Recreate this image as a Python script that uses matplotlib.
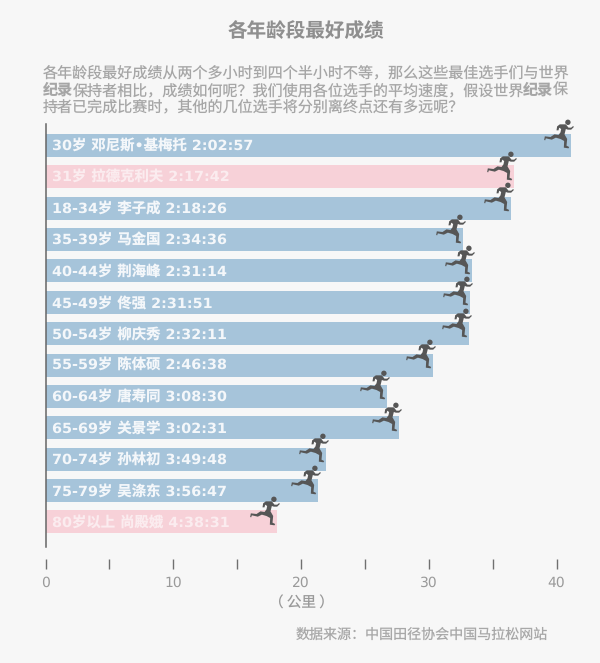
import numpy as np
import matplotlib
matplotlib.use("Agg")
import matplotlib.pyplot as plt
from matplotlib.path import Path

plt.rcParams['font.family'] = ['DejaVu Sans', 'Noto Sans CJK SC']
plt.rcParams['text.hinting'] = 'none'

labels = ["30岁 邓尼斯•基梅托 2:02:57", "31岁 拉德克利夫 2:17:42", "18-34岁 李子成 2:18:26",
          "35-39岁 马金国 2:34:36", "40-44岁 荆海峰 2:31:14", "45-49岁 佟强 2:31:51",
          "50-54岁 柳庆秀 2:32:11", "55-59岁 陈体硕 2:46:38", "60-64岁 唐寿同 3:08:30",
          "65-69岁 关景学 3:02:31", "70-74岁 孙林初 3:49:48", "75-79岁 吴涤东 3:56:47",
          "80岁以上 尚殿娥 4:38:31"]
distance = [41.1, 36.65, 36.45, 32.65, 33.4, 33.25, 33.15, 30.3, 26.75, 27.7, 21.95, 21.35, 18.15]
is_female = [False, True, False, False, False, False, False, False, False, False, False, False, True]

x_ticks = [0, 10, 20, 30, 40]
x_minor = [5, 15, 25, 35]

BLUE = "#a6c4da"
PINK = "#f7d1d8"
W, H = 600, 663

# full width punctuation
COMMA, QMARK, COLON = "\uff0c", "\uff1f", "\uff1a"
LPAR, RPAR = "\uff08", "\uff09"

# silhouette traced from the icon, pixels around the end of the bar
body = [(78, 28), (88, 28), (96, 38), (104, 38), (110, 33), (112, 36), (104, 44), (94, 44),
        (88, 42), (84, 58), (92, 72), (90, 92), (98, 96), (96, 100), (82, 98), (83, 78),
        (72, 72), (58, 68), (46, 74), (28, 70), (26, 76), (23, 75), (25, 64), (42, 66),
        (54, 58), (66, 60), (72, 52), (74, 42), (68, 38), (66, 46), (60, 46), (62, 34), (70, 28)]
body = (np.array(body, float) - [105, 91.5]) / 3 * [1, -1]
head = Path.circle((-3.6, 23.2), 2.7)
runner = Path.make_compound_path(Path(np.vstack([body, body[:1]]), closed=True), head)
runner_size = 2 * np.abs(runner.vertices).max() * 72 / 100


def fig_text(x, y, s, **kw):
    # x, y in pixels from the top left
    fig.text(x / W, 1 - (y + 1) / H, s, va="center", family=['Noto Sans CJK SC', 'DejaVu Sans'], **kw)


fig = plt.figure(figsize=(W / 100, H / 100), dpi=100, facecolor="#f7f7f7")
ax = fig.add_axes([45.5 / W, 1 - 547 / H, 511 / W, 423 / H])
ax.set_facecolor("none")

y = np.arange(len(labels))
ax.barh(y, distance, height=0.735, color=[PINK if f else BLUE for f in is_female], clip_on=False)
ax.plot(distance, y, ls="none", marker=runner, ms=runner_size, mfc="#565656", mec="none", clip_on=False)

for i, s in enumerate(labels):
    ax.annotate(s, (0, i), xytext=(4.8, -3.6), textcoords="offset points", va="baseline",
                color="#fbecef" if is_female[i] else "#f4f7fa", fontsize=10.35, fontweight="bold")

ax.set_xlim(0, 40)
ax.set_ylim(12.8, -0.685)
for side in ["top", "right", "bottom"]:
    ax.spines[side].set_visible(False)
ax.spines["left"].set_color("#666666")
ax.spines["left"].set_linewidth(1.1)
ax.spines["bottom"].set_position(("outward", 8.4))
ax.set_yticks([])
ax.set_xticks(x_ticks)
ax.set_xticks(x_minor, minor=True)
ax.tick_params(axis="x", which="both", length=7.2, width=1, color="#707070")
ax.tick_params(axis="x", which="major", labelsize=10, labelcolor="#9a9a9a", pad=5.5)
ax.set_xlabel(LPAR + " 公里 " + RPAR, fontsize=10.5, color="#9a9a9a", labelpad=4,
              family=['Noto Sans CJK SC', 'DejaVu Sans'])

fig_text(306, 30, "各年龄段最好成绩", ha="center", fontsize=14.1, fontweight="bold", color="#8f8f8f")

intro = [
    (72, [("各年龄段最好成绩从两个多小时到四个半小时不等" + COMMA + "那么这些最佳选手们与世界", "normal")]),
    (89.5, [("纪录", "bold"),
            ("保持者相比" + COMMA + "成绩如何呢" + QMARK + "我们使用各位选手的平均速度" + COMMA + "假设世界", "normal"),
            ("纪录", "bold"), ("保", "normal")]),
    (106, [("持者已完成比赛时" + COMMA + "其他的几位选手将分别离终点还有多远呢" + QMARK, "normal")]),
]
char_w = 15
for line_y, runs in intro:
    n = 0
    for s, weight in runs:
        fig_text(43 + n * char_w, line_y, s, ha="left", fontsize=10.84, fontweight=weight, color="#a6a6a6")
        n += len(s)

fig_text(548, 634, "数据来源" + COLON + "中国田径协会中国马拉松网站", ha="right", fontsize=10.1, color="#a8a8a8")

fig.savefig("out.png", dpi=100, facecolor=fig.get_facecolor())
